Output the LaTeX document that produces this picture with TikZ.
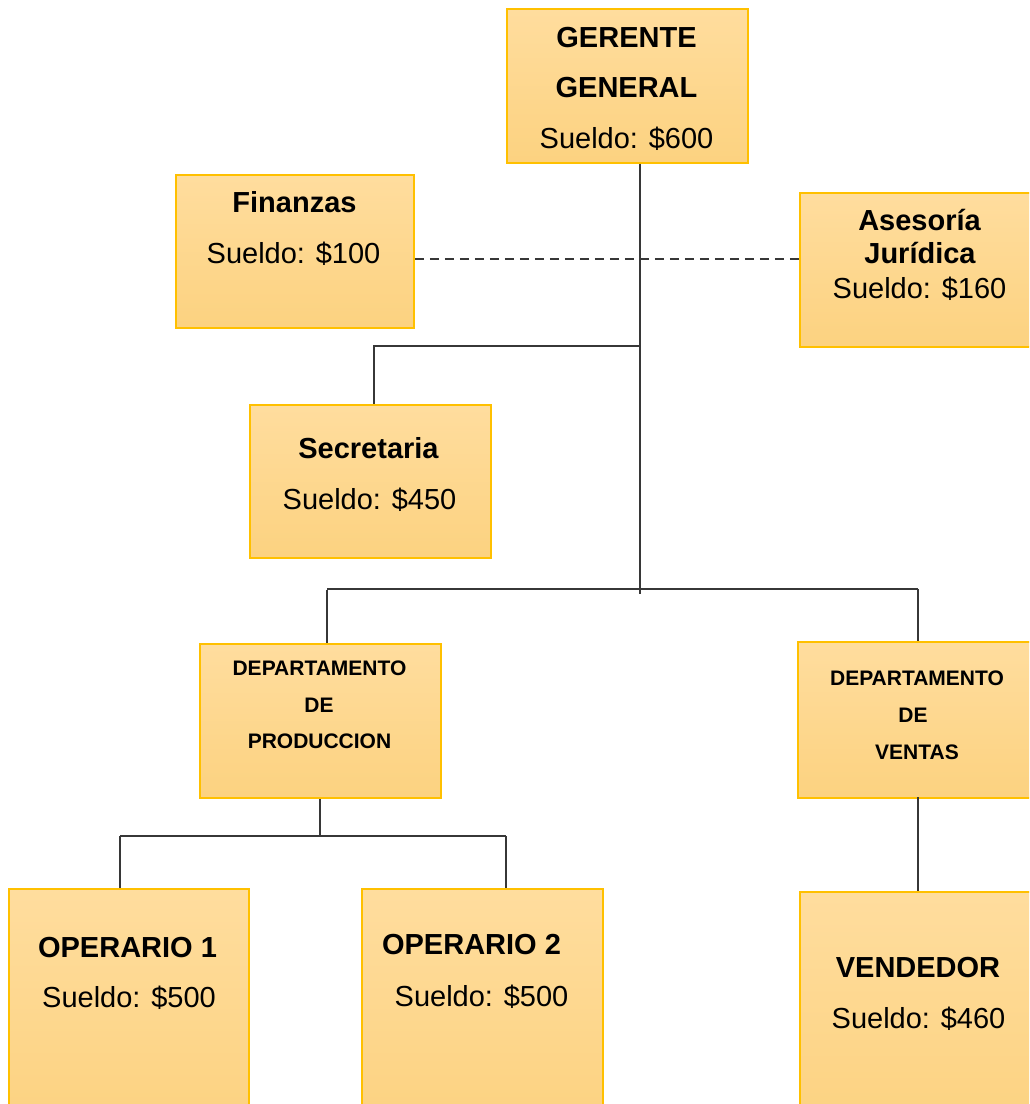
\documentclass[tikz,border=0pt]{standalone}
\usepackage{fontspec}
\setmainfont{Liberation Sans}
\definecolor{boxedge}{RGB}{255,192,0}
\definecolor{boxtop}{RGB}{255,221,158}
\definecolor{boxbottom}{RGB}{252,210,128}
\definecolor{linegray}{RGB}{55,55,55}
\begin{document}
\begin{tikzpicture}[x=1pt,y=-1pt,
  box/.style={rectangle, draw=boxedge, line width=1.8pt, top color=boxtop,
    bottom color=boxbottom, inner sep=0pt, anchor=north west,
    minimum width=241pt, minimum height=154pt},
  big/.style={font=\fontsize{29}{34}\selectfont, inner sep=0pt, anchor=base},
  bigb/.style={font=\fontsize{29}{34}\selectfont\bfseries, inner sep=0pt, anchor=base},
  small/.style={font=\fontsize{21}{25}\selectfont\bfseries, inner sep=0pt, anchor=base},
  link/.style={draw=linegray, line width=1.5pt}]
\useasboundingbox (0,0) rectangle (1029,1104);
\clip (0,0) rectangle (1029,1104);
\fill[white] (0,0) rectangle (1029,1104);

% boxes
\node[box] (ger) at (506,8) {};
\node[box, minimum width=238pt, minimum height=153pt] (fin) at (175,174) {};
\node[box, minimum height=154pt] (ase) at (799,192) {};
\node[box, minimum height=153pt] (sec) at (249,404) {};
\node[box] (prod) at (199,643) {};
\node[box, minimum height=156pt] (ven) at (797,641) {};
\node[box, minimum width=240pt, minimum height=240pt] (op1) at (8,888) {};
\node[box, minimum height=240pt] (op2) at (361,888) {};
\node[box, minimum height=240pt] (vend) at (799,891) {};

% junction points of the connectors
\coordinate (trunk) at (640,594);
\coordinate (secj) at (640,346);
\coordinate (secx) at (374,346);
\coordinate (busL) at (327,589);
\coordinate (busR) at (918,589);
\coordinate (dash) at (0,259);
\coordinate (sub) at (320,836);
\coordinate (subL) at (120,836);
\coordinate (subR) at (506,836);
\coordinate (venx) at (918,797);

% connectors
\draw[link] (trunk |- ger.south) -- (trunk);
\draw[link, dash pattern=on 9pt off 6pt] (fin.east |- dash) -- (ase.west |- dash);
\draw[link] (secj) -- (secx) -- (secx |- sec.north);
\draw[link] (busL) -- (busR);
\draw[link] (busL) ++(0,1) -- (busL |- prod.north);
\draw[link] (busR) -- (busR |- ven.north);
\draw[link] (prod.south -| sub) -- (sub);
\draw[link] (subL) -- (subR);
\draw[link] (subL) -- (subL |- op1.north);
\draw[link] (subR) -- (subR |- op2.north);
\draw[link] (venx) -- (venx |- vend.north);

% texts
\node[bigb] (t1) at (626.5,47) {GERENTE};
\node[bigb] (t2) at (626.5,97) {GENERAL};
\node[big]  (t3) at (626.5,148) {Sueldo: \$600};

\node[bigb] (t4) at (294.5,212) {Finanzas};
\node[big]  (t5) at (293.5,263) {Sueldo: \$100};

\node[bigb] (t6) at (919.5,230) {Asesoría};
\node[bigb] (t7) at (920,263) {Jurídica};
\node[big]  (t8) at (919.5,298) {Sueldo: \$160};

\node[bigb] (t9) at (368.5,458) {Secretaria};
\node[big]  (t10) at (369.5,509) {Sueldo: \$450};

\node[small] (t11) at (319.5,675) {DEPARTAMENTO};
\node[small] (t12) at (319,712) {DE};
\node[small] (t13) at (319.5,748) {PRODUCCION};

\node[small] (t14) at (917,685.5) {DEPARTAMENTO};
\node[small] (t15) at (913,722.5) {DE};
\node[small] (t16) at (917,759.5) {VENTAS};

\node[bigb] (t17) at (127.5,957) {OPERARIO 1};
\node[big]  (t18) at (129,1007) {Sueldo: \$500};

\node[bigb] (t19) at (471.5,954) {OPERARIO 2};
\node[big]  (t20) at (481.5,1006) {Sueldo: \$500};

\node[bigb] (t21) at (918,977) {VENDEDOR};
\node[big]  (t22) at (918.5,1028) {Sueldo: \$460};
\end{tikzpicture}
\end{document}
